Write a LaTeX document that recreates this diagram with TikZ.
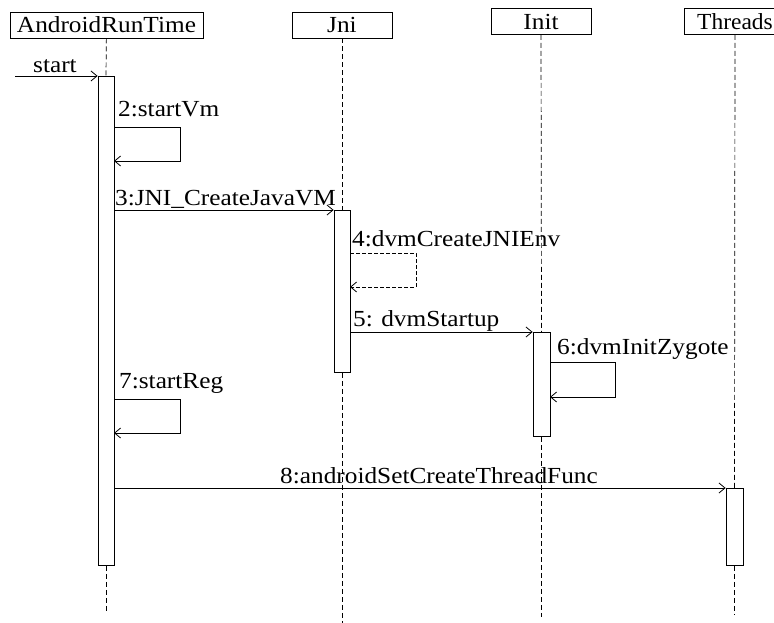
\documentclass[tikz,border=0pt]{standalone}
\usepackage{fontspec}
\setmainfont{Liberation Serif}
\usetikzlibrary{arrows.meta}
\newcommand{\tx}[1]{\scalebox{1.1}[1]{#1}}
\begin{document}
\begin{tikzpicture}[x=1pt,y=-1pt,
  font=\fontsize{23}{27}\selectfont,
  head/.style={draw,line width=0.8pt,inner sep=0pt,minimum height=26pt},
  act/.style={draw,line width=0.8pt,fill=white,inner sep=0pt,minimum width=16pt},
  life/.style={line width=0.7pt,dash pattern=on 5pt off 3pt},
  msg/.style={line width=0.8pt,-{Straight Barb[length=6pt,width=10pt]}},
  rmsg/.style={msg,dash pattern=on 4pt off 2pt},
  lbl/.style={inner sep=0pt,anchor=base west}]
\useasboundingbox (0,0) rectangle (774,623);
\clip (0,0) rectangle (774,623);
% heads
\node[head,minimum width=193pt] (hART) at (106.5,25) {\tx{AndroidRunTime}};
\node[head,minimum width=100pt] (hJni) at (342,25) {\tx{Jni}};
\node[head,minimum width=100pt] (hInit) at (541,21.5) {\tx{Init}};
\node[head,minimum width=102pt] (hThr) at (735,21.5) {\scalebox{1.02}[1]{Threads}\hspace{6pt}};
% activation boxes
\node[act,minimum height=489pt,anchor=north] (aART) at (106,76) {};
\node[act,minimum height=162pt,anchor=north] (aJni) at (342,210) {};
\node[act,minimum height=104pt,anchor=north,minimum width=17pt] (aInit) at (541.5,332) {};
\node[act,minimum height=77pt,anchor=north,minimum width=17pt] (aThr) at (734.5,488) {};
% lifeline ends
\coordinate (eART) at (106,613);
\coordinate (eJni) at (342,623);
\coordinate (eInit) at (541.5,617);
\coordinate (eThr) at (734.5,615);
\draw[life] (hART) -- (aART.north);
\draw[life] (aART.south) -- (eART);
\draw[life] (hJni) -- (aJni.north);
\draw[life] (aJni.south) -- (eJni);
\draw[life] (hInit) -- (aInit.north);
\draw[life] (aInit.south) -- (eInit);
\draw[life] (hThr) -- (aThr.north);
\draw[life] (aThr.south) -- (eThr);
% redraw activation boxes above lifelines
\node[act,minimum height=489pt,anchor=north] at (106,76) {};
\node[act,minimum height=162pt,anchor=north] at (342,210) {};
\node[act,minimum height=104pt,anchor=north,minimum width=17pt] at (541.5,332) {};
\node[act,minimum height=77pt,anchor=north,minimum width=17pt] at (734.5,488) {};
% 1 start
\coordinate (s0) at (15,76);
\draw[msg] (s0) -- (aART.north west);
\node[lbl] (lstart) at (33,73) {\tx{start}};
% 2 startVm
\coordinate (p2a) at (114,127);
\coordinate (p2b) at (180,127);
\coordinate (p2c) at (180,161);
\coordinate (p2d) at (114,161);
\draw[msg] (p2a) -- (p2b) -- (p2c) -- (p2d);
\node[lbl] (l2) at (118,117) {\tx{2:startVm}};
% 3 JNI_CreateJavaVM
\coordinate (p3) at (114,210);
\draw[msg] (p3) -- (aJni.north west);
\node[lbl] (l3) at (115,205) {\tx{3:JNI\_CreateJavaVM}};
% 4 dvmCreateJNIEnv
\coordinate (p4a) at (350,253);
\coordinate (p4b) at (416,253);
\coordinate (p4c) at (416,287);
\coordinate (p4d) at (350,287);
\draw[rmsg] (p4a) -- (p4b) -- (p4c) -- (p4d);
\node[lbl] (l4) at (352,246) {\tx{4:dvmCreateJNIEnv}};
% 5 dvmStartup
\coordinate (p5) at (350,332);
\draw[msg] (p5) -- (aInit.north west);
\node[lbl] (l5) at (353,326) {\tx{5: dvmStartup}};
% 6 dvmInitZygote
\coordinate (p6a) at (550,362);
\coordinate (p6b) at (615,362);
\coordinate (p6c) at (615,397);
\coordinate (p6d) at (550,397);
\draw[msg] (p6a) -- (p6b) -- (p6c) -- (p6d);
\node[lbl] (l6) at (557,354) {\tx{6:dvmInitZygote}};
% 7 startReg
\coordinate (p7a) at (114,399);
\coordinate (p7b) at (180,399);
\coordinate (p7c) at (180,433);
\coordinate (p7d) at (114,433);
\draw[msg] (p7a) -- (p7b) -- (p7c) -- (p7d);
\node[lbl] (l7) at (119,388) {\tx{7:startReg}};
% 8 androidSetCreateThreadFunc
\coordinate (p8) at (114,488);
\draw[msg] (p8) -- (aThr.north west);
\node[inner sep=0pt,anchor=base] (l8) at (439,483) {\tx{8:androidSetCreateThreadFunc}};
\end{tikzpicture}
\end{document}
